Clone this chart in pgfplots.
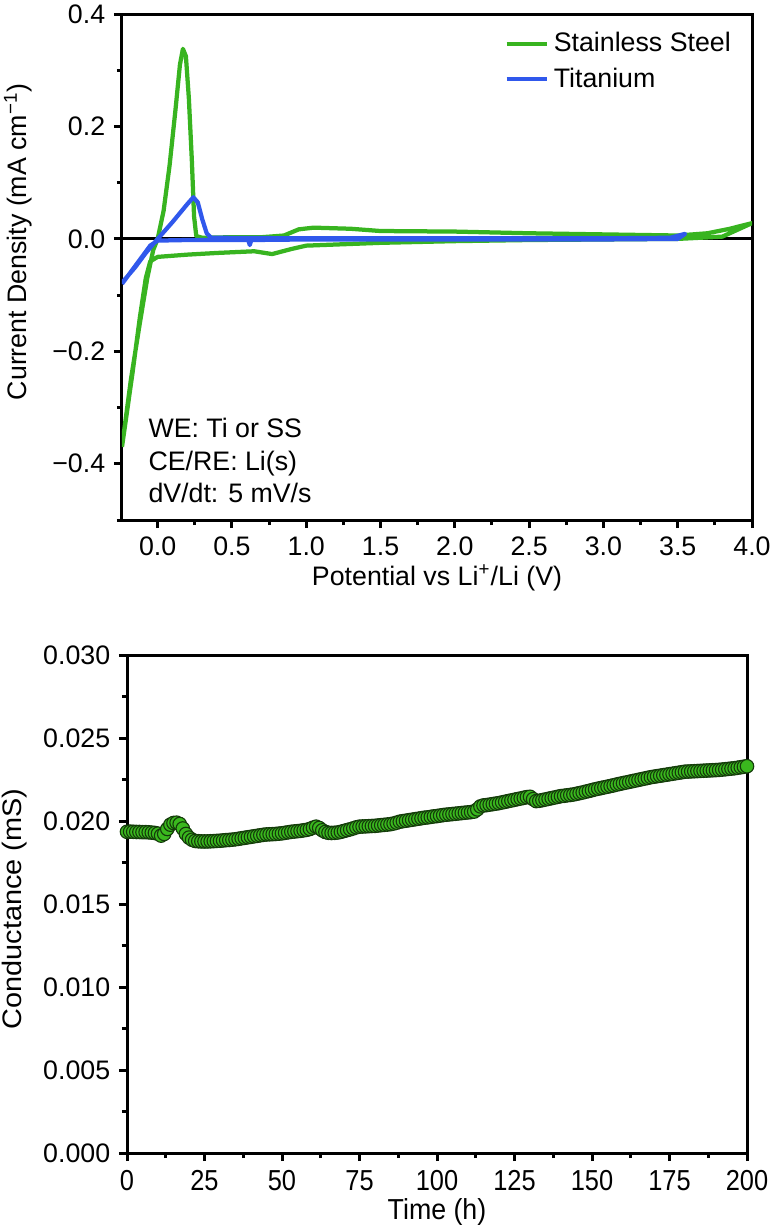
\documentclass[border=0pt]{standalone}
\usepackage{pgfplots}
\pgfplotsset{compat=1.18}
\usepackage{fontspec}
\setmainfont{Liberation Sans}
\definecolor{ssgreen}{RGB}{56,180,32}
\definecolor{tiblue}{RGB}{48,88,236}
\definecolor{mkfill}{RGB}{58,184,30}
\definecolor{mkdraw}{RGB}{20,60,10}
\newcommand{\fs}{\fontsize{10.7}{12.8}\selectfont}
\begin{document}
\begin{tikzpicture}
\useasboundingbox (0,0) rectangle (309.6pt,-491.6pt);
\pgfplotsset{
  myaxis/.style={
    scale only axis,
    anchor=south west,
    axis line style={line width=1.2pt},
    tick pos=left,
    tick align=outside,
    major tick length=3.2pt,
    minor tick length=2pt,
    every tick/.style={black, line width=1.2pt},
    tick label style={font=\fs},
    label style={font=\fs},
    /pgf/number format/assume math mode=true,
    scaled ticks=false,
    clip=true,
  }
}
% ---------------- top axis ----------------
\begin{axis}[myaxis,
  at={(48.8pt,-208pt)},
  width=252pt, height=202.4pt,
  xmin=-0.24, xmax=4.0,
  ymin=-0.5, ymax=0.4,
  xtick={0,0.5,1,1.5,2,2.5,3,3.5,4},
  xticklabels={0.0,0.5,1.0,1.5,2.0,2.5,3.0,3.5,4.0},
  ytick={-0.4,-0.2,0,0.2,0.4},
  yticklabels={−0.4,−0.2,0.0,0.2,0.4},
  minor xtick={-0.25,0.25,0.75,1.25,1.75,2.25,2.75,3.25,3.75},
  minor ytick={-0.5,-0.3,-0.1,0.1,0.3},
  xlabel={Potential vs Li\textsuperscript{+}/Li (V)},
  ylabel={Current Density (mA cm\textsuperscript{−1})},
  every axis x label/.style={at={(axis description cs:0.5,-0.115)},anchor=center,font=\fs},
  every axis y label/.style={at={(axis description cs:-0.165,0.55)},rotate=90,anchor=center,font=\fs},
  legend style={draw=none, fill=none, at={(0.975,0.975)}, anchor=north east,
    font=\fs, row sep=1pt, inner sep=0pt},
  legend cell align=left,
  legend image code/.code={\draw[#1] (0pt,0pt) -- (16pt,0pt);},
]
\addplot[black, line width=1.2pt, forget plot] coordinates {(-0.3,0) (4.1,0)};
\addplot[ssgreen, line width=1.7pt, line join=round] coordinates {
(-0.24,-0.37) (-0.18,-0.25) (-0.12,-0.15) (-0.07,-0.07) (-0.03,-0.02) (0.0,0.0)
(0.04,0.05) (0.08,0.13) (0.12,0.23) (0.15,0.31) (0.17,0.338) (0.19,0.325)
(0.21,0.25) (0.23,0.14) (0.245,0.04) (0.26,0.005) (0.3,0.002) (0.5,0.003)
(0.7,0.003) (0.85,0.006) (0.95,0.017) (1.05,0.02) (1.3,0.018) (1.5,0.014)
(2.0,0.013) (2.5,0.010) (3.0,0.008) (3.5,0.006) (3.7,0.010) (3.85,0.018) (4.0,0.028)
(3.8,0.004) (3.5,0.0) (3.0,-0.001) (2.5,-0.002) (2.0,-0.004) (1.5,-0.007)
(1.2,-0.010) (1.0,-0.012) (0.9,-0.018) (0.77,-0.027) (0.65,-0.022) (0.4,-0.025)
(0.2,-0.028) (0.0,-0.032) (-0.05,-0.04) (-0.08,-0.07) (-0.12,-0.14) (-0.17,-0.24) (-0.24,-0.37)
};
\addlegendentry{Stainless Steel}
\addplot[tiblue, line width=1.7pt, line join=round] coordinates {
(-0.24,-0.078) (-0.15,-0.05) (-0.08,-0.025) (0.0,0.0) (0.1,0.03) (0.2,0.062)
(0.24,0.074) (0.27,0.065) (0.3,0.035) (0.33,0.01) (0.36,0.002) (1.0,0.001)
(2.0,0.001) (3.0,0.001) (3.45,0.002) (3.55,0.009)
(3.5,0.0) (3.0,-0.001) (2.0,-0.001) (1.0,-0.001) (0.63,-0.002) (0.62,-0.011)
(0.61,-0.002) (0.2,-0.002) (0.0,-0.003) (-0.05,-0.012) (-0.1,-0.03) (-0.17,-0.055) (-0.24,-0.08)
};
\addlegendentry{Titanium}
\node[anchor=base west, font=\fs] at (axis cs:-0.121,-0.354) {WE: Ti or SS};
\node[anchor=base west, font=\fs] at (axis cs:-0.121,-0.412) {CE/RE: Li(s)};
\node[anchor=base west, font=\fs] at (axis cs:-0.121,-0.469) {dV/dt: 5 mV/s};
\end{axis}
% ---------------- bottom axis ----------------
\begin{axis}[myaxis,
  at={(50.8pt,-461.2pt)},
  width=248pt, height=199.2pt,
  xmin=0, xmax=200,
  ymin=0, ymax=0.030,
  xtick={0,25,50,75,100,125,150,175,200},
  xticklabels={0,25,50,75,100,125,150,175,200},
  minor xtick={12.5,37.5,62.5,87.5,112.5,137.5,162.5,187.5},
  ytick={0,0.005,0.010,0.015,0.020,0.025,0.030},
  yticklabels={0.000,0.005,0.010,0.015,0.020,0.025,0.030},
  minor ytick={0.0025,0.0075,0.0125,0.0175,0.0225,0.0275},
  x tick label style={xscale=0.95, yscale=1.08},
  xlabel={Time (h)},
  ylabel={Conductance (mS)},
  every axis x label/.style={at={(axis description cs:0.5,-0.118)},anchor=center,font=\fs,yscale=1.08},
  every axis y label/.style={at={(axis description cs:-0.182,0.49)},rotate=90,anchor=center,font=\fs,xscale=1.08},
]
\addplot[only marks, mark=*, mark size=2.7pt, mark options={fill=mkfill, draw=mkdraw, line width=0.45pt}] table {
0 0.01935
1 0.01936
2 0.01935
3 0.01934
4 0.01934
5 0.01933
6 0.01933
7 0.01932
8 0.01930
9 0.01928
10 0.01924
11 0.01912
12 0.01922
13 0.01952
14 0.01978
15 0.01988
16 0.01990
17 0.01982
18 0.01955
19 0.01922
20 0.01900
21 0.01887
22 0.01880
23 0.01878
24 0.01877
25 0.01877
26 0.01877
27 0.01878
28 0.01879
29 0.01880
30 0.01881
31 0.01883
32 0.01885
33 0.01886
34 0.01888
35 0.01890
36 0.01893
37 0.01896
38 0.01899
39 0.01902
40 0.01905
41 0.01908
42 0.01911
43 0.01914
44 0.01917
45 0.01919
46 0.01920
47 0.01921
48 0.01922
49 0.01924
50 0.01926
51 0.01929
52 0.01932
53 0.01935
54 0.01937
55 0.01939
56 0.01941
57 0.01944
58 0.01947
59 0.01952
60 0.01960
61 0.01966
62 0.01958
63 0.01944
64 0.01934
65 0.01929
66 0.01928
67 0.01929
68 0.01931
69 0.01935
70 0.01940
71 0.01945
72 0.01950
73 0.01956
74 0.01962
75 0.01966
76 0.01967
77 0.01968
78 0.01969
79 0.01970
80 0.01971
81 0.01973
82 0.01975
83 0.01977
84 0.01979
85 0.01981
86 0.01985
87 0.01990
88 0.01996
89 0.01999
90 0.02002
91 0.02005
92 0.02008
93 0.02011
94 0.02014
95 0.02017
96 0.02020
97 0.02022
98 0.02025
99 0.02028
100 0.02030
101 0.02033
102 0.02036
103 0.02038
104 0.02040
105 0.02042
106 0.02044
107 0.02046
108 0.02048
109 0.02050
110 0.02052
111 0.02054
112 0.02057
113 0.02070
114 0.02088
115 0.02094
116 0.02096
117 0.02099
118 0.02102
119 0.02105
120 0.02108
121 0.02112
122 0.02116
123 0.02120
124 0.02124
125 0.02128
126 0.02132
127 0.02136
128 0.02140
129 0.02144
130 0.02146
131 0.02132
132 0.02120
133 0.02122
134 0.02126
135 0.02130
136 0.02134
137 0.02138
138 0.02142
139 0.02146
140 0.02150
141 0.02152
142 0.02155
143 0.02157
144 0.02160
145 0.02164
146 0.02168
147 0.02172
148 0.02177
149 0.02181
150 0.02186
151 0.02191
152 0.02195
153 0.02199
154 0.02203
155 0.02207
156 0.02211
157 0.02215
158 0.02220
159 0.02224
160 0.02228
161 0.02232
162 0.02236
163 0.02240
164 0.02244
165 0.02248
166 0.02252
167 0.02256
168 0.02260
169 0.02264
170 0.02267
171 0.02270
172 0.02273
173 0.02276
174 0.02279
175 0.02282
176 0.02285
177 0.02288
178 0.02291
179 0.02294
180 0.02297
181 0.02298
182 0.02299
183 0.02300
184 0.02301
185 0.02302
186 0.02303
187 0.02304
188 0.02305
189 0.02306
190 0.02307
191 0.02308
192 0.02310
193 0.02312
194 0.02314
195 0.02316
196 0.02318
197 0.02321
198 0.02324
199 0.02327
200 0.02330
};
\end{axis}
\end{tikzpicture}
\end{document}
